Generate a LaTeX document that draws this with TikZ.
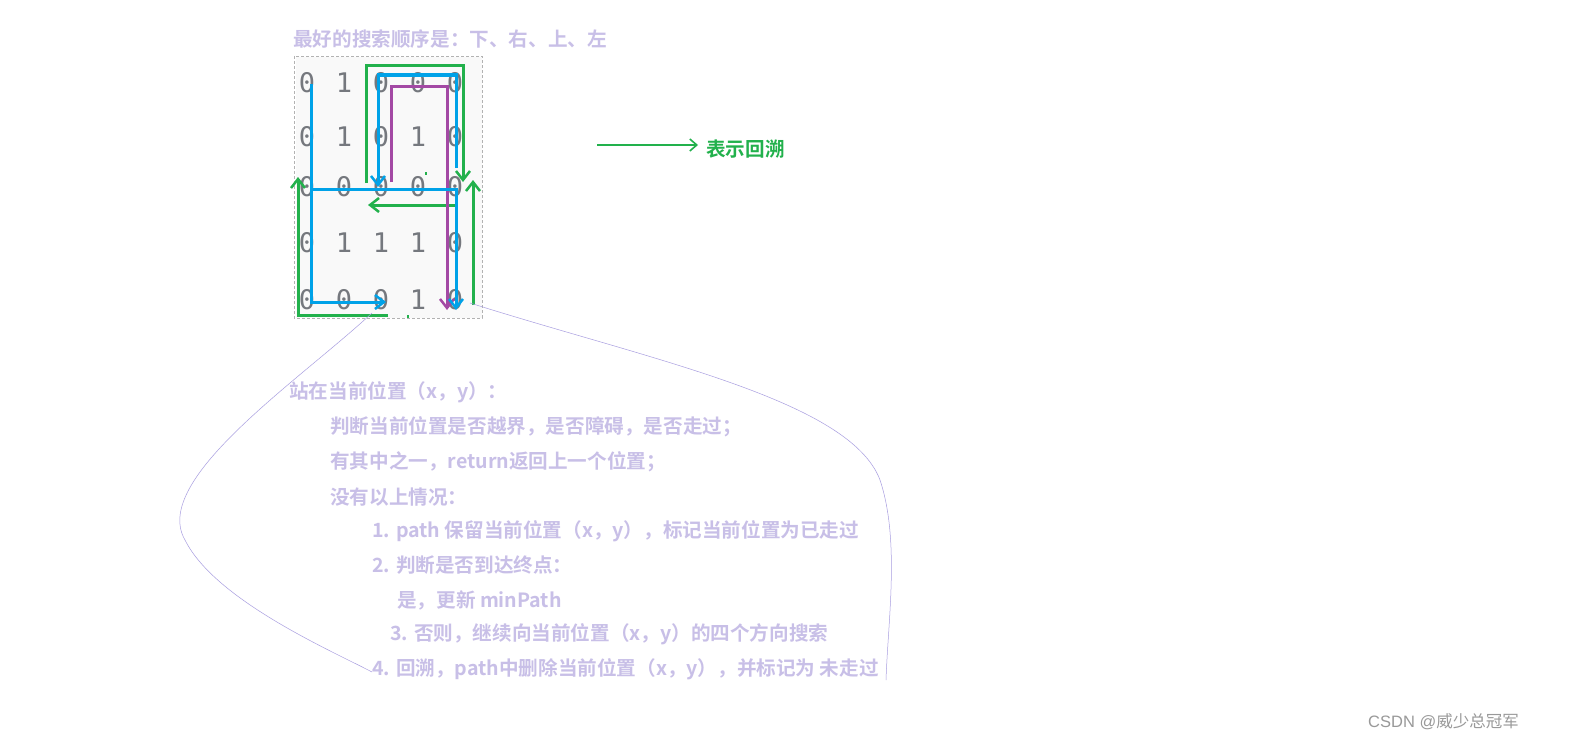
\documentclass[tikz,border=0pt]{standalone}
\usepackage{fontspec}
\newfontfamily\cjk{Noto Sans CJK SC}[BoldFont={* Bold}]
\newfontfamily\mono{DejaVu Sans Mono}
\setsansfont{Liberation Sans}
\usetikzlibrary{arrows.meta}
\definecolor{lav}{HTML}{C8BFE7}
\definecolor{gr}{HTML}{22B14C}
\definecolor{bl}{HTML}{00A2E8}
\definecolor{pu}{HTML}{A349A4}
\definecolor{lasso}{HTML}{A89EE0}
\definecolor{dg}{HTML}{75787E}
\tikzset{
  txt/.style={anchor=west,inner sep=0pt,font=\cjk\bfseries\fontsize{19.6}{20}\selectfont,text=lav},
  dig/.style={inner sep=0pt,font=\mono\fontsize{27}{27}\selectfont,text=dg},
  bpath/.style={draw=bl,line width=3pt,-{Straight Barb[length=9pt,width=14pt,line width=2.5pt]}},
  gpath/.style={draw=gr,line width=3pt,-{Straight Barb[length=9pt,width=14pt,line width=2.5pt]}},
  ppath/.style={draw=pu,line width=3pt,-{Straight Barb[length=9pt,width=14pt,line width=2.5pt]}},
}
\begin{document}
\begin{tikzpicture}[x=1pt,y=-1pt]
\useasboundingbox (0,0) rectangle (1587,752);
\fill[white] (0,0) rectangle (1587,752);
% grid background
\fill[gray!5] (296,57) rectangle (482,318);
\draw[gray!60,densely dashed,line width=0.6pt] (294,56) rectangle (482,318);
\node[txt] (title) at (293,39) {最好的搜索顺序是：下、右、上、左};
% digits
\foreach \r/\row in {83/{0,1,0,0,0},137/{0,1,0,1,0},187/{0,0,0,0,0},243/{0,1,1,1,0},300/{0,0,0,1,0}}{
  \foreach \v [count=\c] in \row {
    \node[dig] at ({270+37*\c},\r) {\v};
  }
}
% coordinates
\coordinate (b1s) at (311,84);
\coordinate (b1e) at (386,302);
\coordinate (b2s) at (311,189);
\coordinate (b2e) at (456,310);
\coordinate (b3s) at (456,168);
\coordinate (b3e) at (378,187);
\coordinate (p1s) at (391,182);
\coordinate (p1e) at (447,310);
\coordinate (g1s) at (366,183);
\coordinate (g1e) at (463,182);
\coordinate (g2s) at (457,205);
\coordinate (g2e) at (368,205);
\coordinate (g3s) at (473,305);
\coordinate (g3e) at (473,180);
\coordinate (g4s) at (388,315);
\coordinate (g4e) at (298,177);
% paths
\draw[gpath] (g1s) |- (463,66) -- (g1e);
\draw[gpath] (g2s) -- (g2e);
\draw[gpath] (g3s) -- (g3e);
\draw[gpath] (g4s) -| (g4e);
\draw[ppath] (p1s) |- (447,86) -- (p1e);
\draw[bpath] (b3s) |- (378,75) -- (b3e);
\draw[bpath] (b1s) |- (b1e);
\draw[bpath] (b2s) -| (b2e);
\fill[gr] (425,172) rectangle (427,175);
\fill[gr] (407,315) rectangle (409,318);
% lasso
\draw[lasso,line width=0.5pt] (372,313) .. controls (300,380) and (150,480) .. (185,540) .. controls (215,600) and (330,650) .. (372,672);
\draw[lasso,line width=0.5pt] (470,303) .. controls (650,360) and (850,400) .. (880,480) .. controls (900,540) and (888,620) .. (886,680);
% legend
\coordinate (la) at (597,145);
\coordinate (lb) at (698,145);
\draw[draw=gr,line width=1.6pt,-{Straight Barb[length=7pt,width=12pt,line width=1.6pt]}] (la) -- (lb);
\node[txt,text=gr] (leg) at (706,149) {表示回溯};
% texts
\node[txt] (t1) at (289,392) {站在当前位置（x，y）：};
\node[txt] (t2) at (330,427) {判断当前位置是否越界，是否障碍，是否走过；};
\node[txt] (t3) at (330,462) {有其中之一，return返回上一个位置；};
\node[txt] (t4) at (330,497) {没有以上情况：};
\node[txt] (t5) at (372,531) {1. path 保留当前位置（x，y），标记当前位置为已走过};
\node[txt] (t6) at (372,565) {2. 判断是否到达终点：};
\node[txt] (t7) at (397,600) {是，更新 minPath};
\node[txt] (t8) at (390,634) {3. 否则，继续向当前位置（x，y）的四个方向搜索};
\node[txt] (t9) at (372,669) {4. 回溯，path中删除当前位置（x，y），并标记为 未走过};
\node[anchor=west,inner sep=0pt,font=\sffamily\fontsize{16.5}{17}\selectfont,text=gray!80] (wm) at (1368,722) {CSDN @{\cjk 威少总冠军}};
\end{tikzpicture}
\end{document}
